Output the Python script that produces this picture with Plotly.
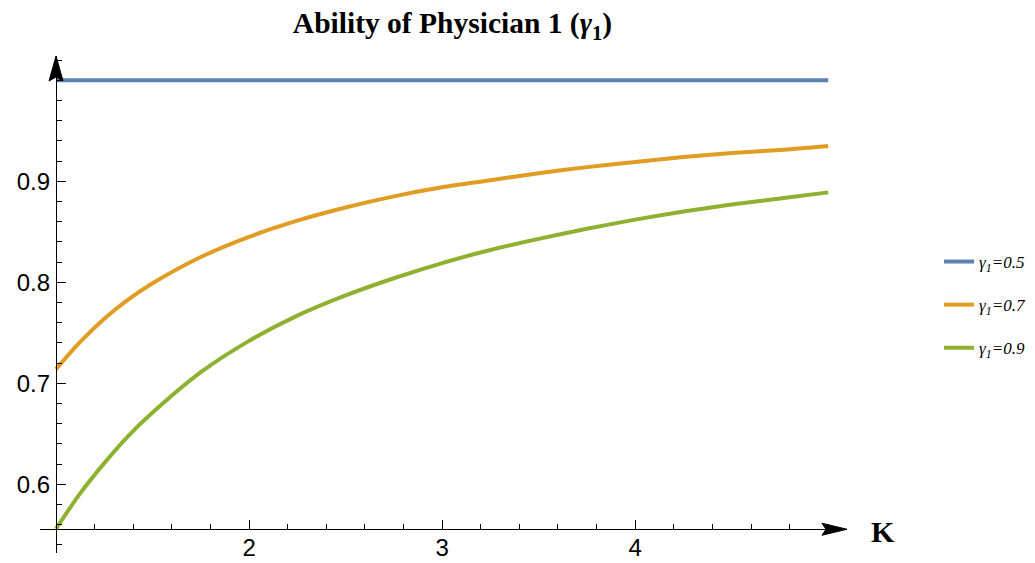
import plotly.graph_objects as go

# ---- data ----
K = [1.0, 1.125, 1.25, 1.375, 1.5, 1.75, 2.0, 2.25, 2.5, 2.75, 3.0, 3.25, 3.5, 3.75,
     4.0, 4.25, 4.5, 4.75, 5.0]
gamma_05 = [1.0] * len(K)
gamma_07 = [0.714, 0.741, 0.764, 0.783, 0.799, 0.825, 0.845, 0.861, 0.874, 0.885,
            0.894, 0.901, 0.908, 0.914, 0.919, 0.924, 0.928, 0.931, 0.935]
gamma_09 = [0.556, 0.591, 0.621, 0.648, 0.671, 0.711, 0.742, 0.767, 0.787, 0.804,
            0.819, 0.832, 0.843, 0.853, 0.862, 0.870, 0.877, 0.883, 0.889]
series_names = ["<i>γ<sub>1</sub>=0.5</i>", "<i>γ<sub>1</sub>=0.7</i>", "<i>γ<sub>1</sub>=0.9</i>"]
series_colors = ["#5E81B5", "#E19C24", "#8FB131"]
x_tickvals = [2, 3, 4]
y_tickvals = [0.6, 0.7, 0.8, 0.9]

x_range = [0.917, 5.097]
y_range = [0.532, 1.024]
x_origin = 1.0
y_origin = 0.5555

fig = go.Figure()
for name, ys, col in zip(series_names, [gamma_05, gamma_07, gamma_09], series_colors):
    fig.add_trace(go.Scatter(x=K, y=ys, mode="lines", name=name, legendgroup=name,
                             line=dict(color=col, width=4, shape="spline", smoothing=0.8)))

sans = "Liberation Sans, Arial, sans-serif"
serif = "Liberation Serif, Times New Roman, serif"

xpos = (y_origin - y_range[0]) / (y_range[1] - y_range[0])
ypos = (x_origin - x_range[0]) / (x_range[1] - x_range[0])

# the page body has an 8px margin, so the figure is sized to fit the window
W, H = 1027, 555

fig.update_layout(
    width=W, height=H, autosize=False,
    margin=dict(l=32, r=188, t=48, b=10, autoexpand=False),
    paper_bgcolor="white", plot_bgcolor="white",
    title=dict(text="<b>Ability of Physician 1 (<i>γ</i><sub>1</sub>)</b>",
               font=dict(family=serif, size=29.5, color="black"),
               x=444.5 / W, xanchor="center", xref="container",
               y=1 - 15 / H, yanchor="middle", yref="container"),
    xaxis=dict(range=x_range, anchor="free", position=xpos, automargin=False,
               showline=True, linecolor="black", linewidth=1.3,
               ticks="inside", ticklen=9, tickwidth=1.2, tickcolor="black",
               tickvals=x_tickvals, tickfont=dict(family=sans, size=24, color="black"),
               ticklabelstandoff=-3,
               showgrid=False, zeroline=False,
               minor=dict(dtick=0.2, tick0=1, ticks="inside", ticklen=5, tickwidth=1,
                          tickcolor="black", showgrid=False)),
    yaxis=dict(range=y_range, anchor="free", position=ypos, automargin=False,
               showline=True, linecolor="black", linewidth=1.3,
               ticks="inside", ticklen=9, tickwidth=1.2, tickcolor="black",
               tickvals=y_tickvals, tickformat=".1f",
               tickfont=dict(family=sans, size=24, color="black"),
               ticklabelstandoff=1,
               showgrid=False, zeroline=False,
               minor=dict(dtick=0.02, tick0=0.5, ticks="inside", ticklen=5, tickwidth=1,
                          tickcolor="black", showgrid=False)),
    legend=dict(x=(939 - 40) / 807, xanchor="left", xref="paper",
                y=(553 - 244) / 497, yanchor="top",
                traceorder="grouped", tracegroupgap=18,
                font=dict(family=serif, size=17, color="black"),
                bgcolor="rgba(0,0,0,0)"),
    showlegend=True,
)

# arrowheads at the ends of the axes
fig.add_shape(type="path", xref="x", yref="y", xsizemode="pixel", ysizemode="pixel",
              xanchor=x_range[1], yanchor=y_origin,
              path="M0,0 L-25,6 L-21,0 L-25,-6 Z",
              fillcolor="black", line=dict(color="black", width=1))
fig.add_shape(type="path", xref="x", yref="y", xsizemode="pixel", ysizemode="pixel",
              xanchor=x_origin, yanchor=y_range[1],
              path="M0,0 L-7,-25 L0,-21 L7,-25 Z",
              fillcolor="black", line=dict(color="black", width=1))

# axis label
fig.add_annotation(x=x_range[1], y=y_origin, xref="x", yref="y", text="<b>K</b>",
                   showarrow=False, xanchor="left", yanchor="middle", xshift=22, yshift=-2,
                   font=dict(family=serif, size=30, color="black"))

fig.write_html("out.html")
